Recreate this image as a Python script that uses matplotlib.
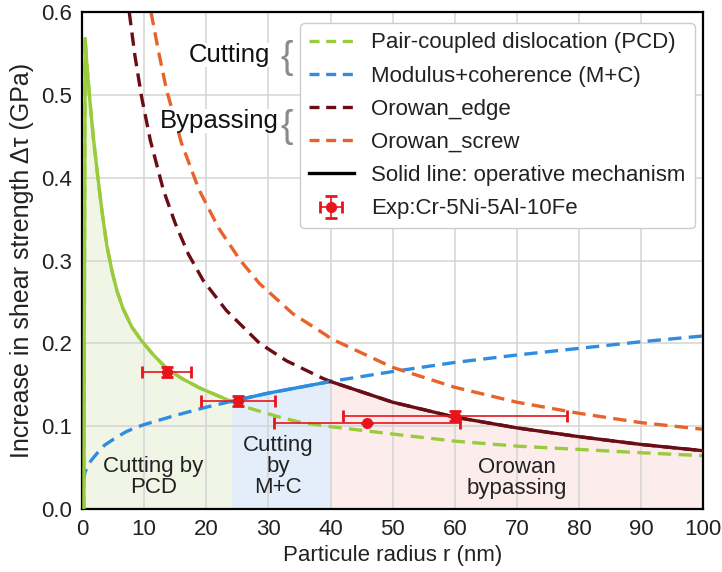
import matplotlib.pyplot as plt
from matplotlib.lines import Line2D

plt.rcParams['font.family'] = ['Liberation Sans', 'DejaVu Sans']

# curves (r in nm, tau in GPa)
r_pcd = [0.3, 0.5, 0.8, 1.3, 1.8, 2.4, 3.2, 4.0, 4.8, 5.6, 6.6, 8.0, 9.6, 11.5,
         13.6, 16, 19, 24, 26.4, 31.8, 35, 40, 50, 60, 70, 80, 90, 100]
tau_pcd = [0.0, 0.568, 0.535, 0.49, 0.45, 0.41, 0.36, 0.318, 0.288, 0.264, 0.242,
           0.22, 0.203, 0.186, 0.170, 0.158, 0.146, 0.13, 0.123, 0.111, 0.105,
           0.0995, 0.0906, 0.082, 0.076, 0.072, 0.068, 0.0644]

r_mc = [0.15, 0.5, 1.0, 1.5, 2.5, 3.6, 5, 7, 8.5, 10, 15, 20, 24, 30, 35, 40,
        50, 60, 70, 80, 90, 100]
tau_mc = [0.033, 0.045, 0.053, 0.059, 0.068, 0.077, 0.084, 0.093, 0.098, 0.102,
          0.113, 0.123, 0.13, 0.14, 0.147, 0.154, 0.166, 0.177, 0.186, 0.194,
          0.202, 0.209]

r_edge = [7.6, 8.5, 9.6, 11, 13.1, 15, 17.1, 19.5, 23.2, 28.6, 32.9, 38.7, 40,
          50, 60, 70, 80, 90, 100]
tau_edge = [0.6, 0.548, 0.497, 0.445, 0.385, 0.345, 0.308, 0.276, 0.24, 0.2,
            0.179, 0.158, 0.154, 0.129, 0.111, 0.098, 0.0874, 0.078, 0.0704]

r_screw = [11.1, 12.3, 13.6, 16, 18.8, 22, 25.5, 28.6, 33.9, 39.3, 40, 50, 60,
           70, 80, 90, 100]
tau_screw = [0.6, 0.553, 0.506, 0.442, 0.386, 0.339, 0.3, 0.272, 0.236, 0.21,
             0.206, 0.171, 0.147, 0.129, 0.1156, 0.1043, 0.0963]

# experiment Cr-5Ni-5Al-10Fe
exp_r = [13.6, 25.1, 45.9, 60.0]
exp_tau = [0.165, 0.130, 0.104, 0.1125]
exp_rerr = [4.0, 6.0, 15.0, 18.0]
exp_tauerr = [0.006, 0.006, 0.0, 0.006]

c_pcd = '#9acb3c'
c_mc = '#2e8de0'
c_edge = '#6a0d14'
c_screw = '#e8622a'
c_exp = '#e8141c'


def part(r, t, lo, hi):
    rr, tt = [], []
    for a, b in zip(r, t):
        if lo <= a <= hi:
            rr.append(a)
            tt.append(b)
    return rr, tt


fig = plt.figure(figsize=(7.22, 5.72), dpi=100)
ax = fig.add_axes([0.1136, 0.110, 0.8605, 0.869])

# operative parts
r1, t1 = part(r_pcd, tau_pcd, 0, 24)
r2, t2 = part(r_mc, tau_mc, 24, 40)
r3, t3 = part(r_edge, tau_edge, 40, 100)

ax.fill_between(r1, 0, t1, color='#f1f5e6', lw=0, zorder=0.2)
ax.fill_between(r2, 0, t2, color='#e3eefa', lw=0, zorder=0.2)
ax.fill_between(r3, 0, t3, color='#fcecec', lw=0, zorder=0.2)

ax.grid(color='#d4d4d4', lw=1.1, zorder=0.5)
ax.set_axisbelow(True)

lw = 2.4
ds = (4, 2.2)
ax.plot(r_pcd, tau_pcd, color=c_pcd, lw=lw, ls='--', dashes=ds, zorder=2)
ax.plot(r_mc, tau_mc, color=c_mc, lw=lw, ls='--', dashes=ds, zorder=2)
ax.plot(r_edge, tau_edge, color=c_edge, lw=lw, ls='--', dashes=ds, zorder=2)
ax.plot(r_screw, tau_screw, color=c_screw, lw=lw, ls='--', dashes=ds, zorder=2)

ax.plot(r1, t1, color=c_pcd, lw=lw, zorder=3)
ax.plot(r2, t2, color=c_mc, lw=lw, zorder=3)
ax.plot(r3, t3, color=c_edge, lw=lw, zorder=3)

eb = ax.errorbar(exp_r, exp_tau, xerr=exp_rerr, yerr=exp_tauerr, fmt='o',
                 color=c_exp, ms=7, elinewidth=1.2, capsize=4, capthick=2,
                 zorder=4)

ax.set_xlim(0, 100)
ax.set_ylim(0, 0.6)
ax.set_xticks(range(0, 101, 10))
ax.set_yticks([0, 0.1, 0.2, 0.3, 0.4, 0.5, 0.6])
ax.set_yticklabels(['0.0', '0.1', '0.2', '0.3', '0.4', '0.5', '0.6'])
ax.tick_params(length=0, labelsize=16, pad=7, colors='#222222')
for s in ax.spines.values():
    s.set_linewidth(1.6)
    s.set_color('black')

ax.set_xlabel('Particule radius r (nm)', fontsize=16, color='#222222', labelpad=4)
ax.set_ylabel('Increase in shear strength Δτ (GPa)', fontsize=18,
              color='#222222', labelpad=5)

# region labels
ax.text(11.5, 0.039, 'Cutting by\nPCD', ha='center', va='center',
        fontsize=16, linespacing=1.0, color='#222222')
ax.text(31.6, 0.051, 'Cutting\nby\nM+C', ha='center', va='center',
        fontsize=16, linespacing=1.0, color='#222222')
ax.text(70, 0.037, 'Orowan\nbypassing', ha='center', va='center',
        fontsize=16, linespacing=1.0, color='#222222')

handles = [
    Line2D([], [], color=c_pcd, lw=2.4, ls='--', dashes=(3, 2)),
    Line2D([], [], color=c_mc, lw=2.4, ls='--', dashes=(3, 2)),
    Line2D([], [], color=c_edge, lw=2.4, ls='--', dashes=(3, 2)),
    Line2D([], [], color=c_screw, lw=2.4, ls='--', dashes=(3, 2)),
    Line2D([], [], color='black', lw=2.4),
    eb,
]
labels = ['Pair-coupled dislocation (PCD)', 'Modulus+coherence (M+C)',
          'Orowan_edge', 'Orowan_screw', 'Solid line: operative mechanism',
          'Exp:Cr-5Ni-5Al-10Fe']
leg = ax.legend(handles, labels, loc='upper right', bbox_to_anchor=(0.986, 0.977),
                borderaxespad=0, fontsize=16, handlelength=2.0,
                labelspacing=0.55, handletextpad=0.8, borderpad=0.4,
                framealpha=1, edgecolor='#cccccc', fancybox=True)
leg.set_zorder(5)
for t in leg.get_texts():
    t.set_color('#222222')

# group labels with braces
fig.text(270 / 722, 1 - 55 / 572, 'Cutting', ha='right', va='center',
         fontsize=18.5, color='#111111', zorder=1.5,
         bbox=dict(facecolor='white', edgecolor='none', pad=0))
fig.text(279 / 722, 1 - 121 / 572, 'Bypassing', ha='right', va='center',
         fontsize=18.5, color='#111111', zorder=1.5,
         bbox=dict(facecolor='white', edgecolor='none', pad=0))
fig.text(287 / 722, 1 - 58 / 572, '{', ha='center', va='center',
         fontsize=27, color='#8a8a8a')
fig.text(287 / 722, 1 - 127 / 572, '{', ha='center', va='center',
         fontsize=27, color='#8a8a8a')

fig.savefig('out.png', dpi=100)
